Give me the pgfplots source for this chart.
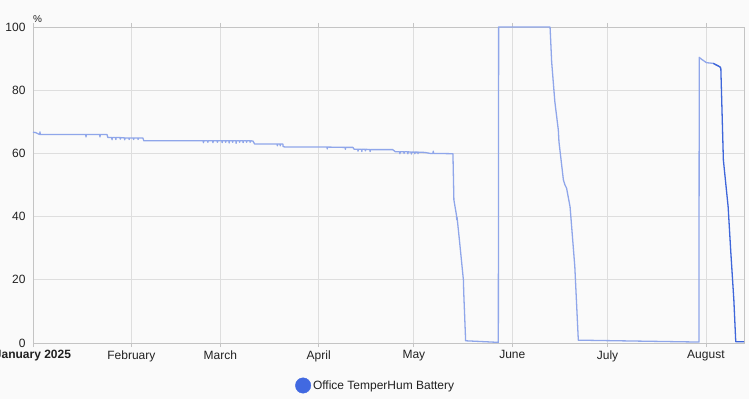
\documentclass[border=0pt]{standalone}
\usepackage{fontspec}
\setmainfont{Liberation Sans}
\usepackage{pgfplots}
\pgfplotsset{compat=1.18}
\definecolor{bg}{RGB}{250,250,250}
\definecolor{gridc}{RGB}{222,222,222}
\definecolor{axc}{RGB}{196,196,196}
\definecolor{lineA}{RGB}{143,166,234}
\definecolor{lineB}{RGB}{62,102,218}
\definecolor{legc}{RGB}{65,105,225}
\definecolor{txt}{RGB}{33,33,33}
\begin{document}
\begin{tikzpicture}
\path[use as bounding box, fill=bg] (-33pt,-56pt) rectangle (716pt,343pt);
\begin{axis}[
  at={(0pt,0pt)}, anchor=south west,
  scale only axis, width=711pt, height=316pt,
  xmin=0, xmax=224, ymin=0, ymax=100,
  xtick={0,31,59,90,120,151,181,212},
  xticklabels={\textbf{January 2025},February,March,April,May,June,July,August},
  ytick={0,20,40,60,80,100},
  grid=major, grid style={gridc, line width=0.8pt},
  axis line style={axc, line width=0.8pt},
  tick align=outside, major tick length=4pt,
  xtick style={axc, line width=0.8pt},
  ytick style={draw=none},
  ticklabel style={font=\fontsize{12}{14}\selectfont, text=txt},
  /pgf/number format/assume math mode=true,
  clip=false,
  legend style={at={(0.3685,-0.1345)}, anchor=west, draw=none, fill=none,
    inner sep=0pt, font=\fontsize{12}{14}\selectfont, text=txt},
  legend cell align=left,
]
\addlegendimage{legend image code/.code={\fill[legc] (0pt,0pt) circle (7.7pt);}}
\addlegendentry{Office TemperHum Battery}
\addplot[forget plot, lineA, line width=1.3pt, line join=round] coordinates {
(0,66.7) (0.8,66.6) (1.6,66.2) (2.1,66.0) (2.2,66.8) (2.3,66.0)
(16.6,66.0)(16.7,65.2)(16.8,66.0)
(21.0,66.0)(21.1,65.2)(21.2,66.0)
(23.3,66.0)(23.6,65.0)
(24.8,65.0)(24.9,64.3)(25.0,65.0)
(26.0,65.0)(26.1,64.4)(26.2,65.0)
(27.4,65.0)(27.5,64.5)(27.6,65.0)
(28.8,64.9)(28.9,64.3)(29.0,64.9)
(30.2,64.9)(30.3,64.4)(30.4,64.9)
(31.6,64.9)(31.7,64.4)(31.8,64.9)
(33.0,64.9)(33.1,64.4)(33.2,64.9)
(34.6,64.9)(34.9,64.0)
(53.6,64.0)(53.7,63.4)(53.8,64.0)
(55.0,64.0)(55.1,63.5)(55.2,64.0)
(56.6,64.0)(56.7,63.4)(56.8,64.0)
(58.0,64.0)(58.1,63.5)(58.2,64.0)
(59.5,64.0)(59.6,63.4)(59.7,64.0)
(60.6,64.0)(60.7,63.5)(60.8,64.0)
(61.7,64.0)(61.8,63.3)(61.9,64.0)
(62.8,64.0)(62.9,63.5)(63.0,64.0)
(63.9,64.0)(64.0,63.2)(64.1,64.0)
(65.0,64.0)(65.1,63.5)(65.2,64.0)
(66.1,64.0)(66.2,63.4)(66.3,64.0)
(67.2,64.0)(67.3,63.5)(67.4,64.0)
(68.3,64.0)(68.4,63.5)(68.5,64.0)
(69.3,63.9)(69.8,63.0)
(76.9,63.0)(77.0,62.4)(77.1,63.0)
(77.8,63.0)(77.9,62.4)(78.0,63.0)
(78.7,63.0)(78.8,62.2)(79.4,62.0)
(92.6,62.0)(92.7,61.4)(92.8,62.0)
(98.3,61.9)(98.4,61.3)(98.5,61.9)
(100.8,61.9)(101.2,61.3)
(102.3,61.3)(102.4,60.7)(102.5,61.3)
(103.5,61.3)(103.6,60.6)(103.7,61.3)
(104.6,61.3)(104.7,60.8)(104.8,61.3)
(106.1,61.2)(106.2,60.6)(106.3,61.2)
(113.3,61.2)(114.2,60.5)
(115.5,60.5)(115.6,59.9)(115.7,60.5)
(116.8,60.5)(116.9,60.0)(117.0,60.5)
(118.0,60.5)(118.1,59.9)(118.2,60.5)
(119.1,60.4)(119.2,59.8)(119.3,60.4)
(120.2,60.4)(120.3,59.9)(120.4,60.4)
(121.2,60.4)(121.3,59.9)(121.4,60.4)
(123.5,60.3)(125.1,60.0)
(126.0,60.0)(126.1,60.7)(126.2,60.0)
(132.3,59.9)
(132.6,45.3)(133.4,40.5)(133.5,39.0)(133.6,39.8)(134.5,31.0)(134.6,30.0)(135.6,19.9)(135.7,16.0)(136.3,0.7)
(146.6,0.2)(146.7,100)(162.9,100)(163.4,89)(164.4,76.4)(165.5,67.4)(165.7,63.7)(167.1,51.6)(167.6,50)(168.1,49)(169.2,43.1)(169.7,36.8)(170.7,24.1)(171.8,0.9)
(209.8,0.3)(209.9,90.4)(210.6,89.8)(212.2,88.7)(214.3,88.5)(216.4,87.4)(216.7,86.9)
};
\addplot[forget plot, lineB, line width=1.3pt, line join=round] coordinates {
(214.3,88.5)(216.4,87.4)(216.7,86.9)(217.5,57.9)(219.0,43.1)(219.8,29.4)(220.8,13.6)(221.4,0.4)(224,0.4)
};
\node[anchor=south west, inner sep=0pt, yshift=4pt, font=\fontsize{10}{12}\selectfont, text=txt] at (rel axis cs:0,1) {\%};
\end{axis}
\end{tikzpicture}
\end{document}
